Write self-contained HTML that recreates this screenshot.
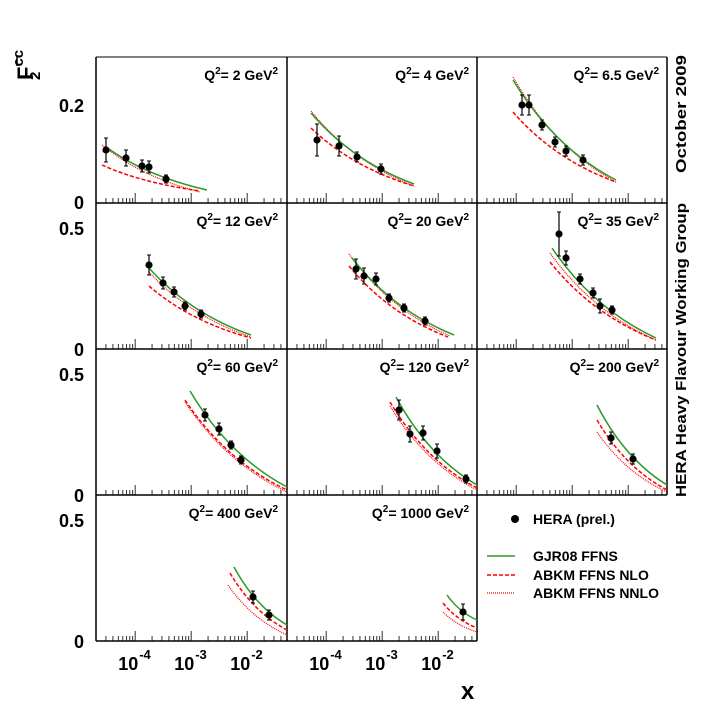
<!DOCTYPE html>
<html><head><meta charset="utf-8"><style>
html,body{margin:0;padding:0;background:#fff;}
svg{display:block;font-family:"Liberation Sans",Arial,sans-serif;font-weight:bold;}
</style></head><body>
<svg id="s" width="709" height="709" viewBox="0 0 709 709" xmlns="http://www.w3.org/2000/svg">
<rect width="709" height="709" fill="#fff"/>
<g id="g"></g>
<text x="0" y="0" transform="translate(33,80) rotate(-90)" font-size="22">F<tspan font-size="15" dy="-10">cc</tspan></text>
<line x1="17" y1="66" x2="17" y2="55" stroke="#000" stroke-width="1.5"/>
<text x="0" y="0" transform="translate(40,80) rotate(-90)" font-size="15">2</text>
<text transform="translate(686,173) rotate(-90)" font-size="15" textLength="118" lengthAdjust="spacingAndGlyphs">October 2009</text>
<text transform="translate(686,497) rotate(-90)" font-size="15" textLength="294" lengthAdjust="spacingAndGlyphs">HERA Heavy Flavour Working Group</text>
<text x="461" y="699" font-size="24">x</text>
<circle cx="515" cy="519" r="4" fill="#000"/>
<text x="533" y="524" font-size="14">HERA (prel.)</text>
<line x1="487" y1="556" x2="515" y2="556" stroke="#2a9a2a" stroke-width="1.5"/>
<text x="533" y="561" font-size="14">GJR08 FFNS</text>
<line x1="487" y1="575" x2="515" y2="575" stroke="#f00" stroke-width="1.5" stroke-dasharray="4,2"/>
<text x="533" y="580" font-size="14">ABKM FFNS NLO</text>
<line x1="487" y1="593" x2="515" y2="593" stroke="#f00" stroke-width="1.2" stroke-dasharray="1,1"/>
<text x="533" y="598" font-size="14">ABKM FFNS NNLO</text>
</svg>
<script>
var g=document.getElementById('g'),h='';
var cx=[96,287,477],cw=191,ry=[57,203,349,495],rh=146;
function L(a,b,c,d,s,w,da){h+='<line x1="'+a+'" y1="'+b+'" x2="'+c+'" y2="'+d+'" stroke="'+(s||'#000')+'" stroke-width="'+(w||1)+'"'+(da?' stroke-dasharray="'+da+'"':'')+'/>';}
var panels=[
[0,0,'2',[[106,150],[126,158],[142,166],[149,167],[166,179]],[[106,147],[207,190]],[[102,165],[200,191]],[[102,145],[200,192]],[12,8,6,6,4]],
[1,0,'4',[[317,140],[339,146],[357,157],[381,169]],[[311,113],[414,184]],[[311,128],[414,186]],[[311,111],[414,186]],[16,10,5,5]],
[2,0,'6.5',[[522,105],[529,105],[542,125],[555,142],[566,151],[583,160]],[[513,80],[616,180]],[[513,112],[616,182]],[[513,77],[616,182]],[10,10,5,5,5,5]],
[0,1,'12',[[149,265],[163,283],[174,292],[185,306],[201,314]],[[149,268],[251,335]],[[149,286],[251,338]],[[149,272],[251,337]],[10,6,5,4,4]],
[1,1,'20',[[356,269],[364,276],[376,279],[389,298],[404,308],[425,321]],[[352,258],[454,335]],[[349,266],[448,337]],[[349,254],[450,336]],[10,8,6,4,4,4]],
[2,1,'35',[[559,234],[566,258],[580,279],[593,293],[600,306],[612,310]],[[552,248],[656,338]],[[550,262],[656,340]],[[550,253],[656,340]],[22,7,5,5,7,4]],
[0,2,'60',[[205,415],[219,429],[231,445],[241,460]],[[190,391],[287,487]],[[185,400],[287,490]],[[185,402],[287,492]],[6,6,4,4]],
[1,2,'120',[[399,410],[410,434],[423,433],[437,451],[466,479]],[[396,397],[477,485]],[[390,402],[477,488]],[[390,406],[477,490]],[10,8,7,7,4]],
[2,2,'200',[[611,438],[633,459]],[[597,405],[667,485]],[[597,420],[667,490]],[[597,432],[667,492]],[6,5]],
[0,3,'400',[[253,597],[269,615]],[[234,567],[287,625]],[[230,573],[287,630]],[[228,585],[287,635]],[6,5]],
[1,3,'1000',[[463,612]],[[447,595],[477,620]],[[443,603],[477,628]],[[443,612],[477,632]],[8]]
];
function cv(a,b,col,da,w){var mx=(a[0]+b[0])/2,my=(a[1]+b[1])/2;var dx=b[0]-a[0],dy=b[1]-a[1];
h+='<path d="M'+a[0]+','+a[1]+' Q'+(mx-0.1*dx)+','+(my+0.18*dy)+' '+b[0]+','+b[1]+'" fill="none" stroke="'+col+'" stroke-width="'+w+'"'+(da?' stroke-dasharray="'+da+'"':'')+'/>';}
for(var r=0;r<4;r++)for(var c=0;c<3;c++){
 if(r==3&&c==2){continue;}
 var x0=cx[c],y0=ry[r],x1=x0+cw,y1=y0+rh;
 for(var d=-5;d<=-1;d++)for(var m=1;m<10;m++){var x=x0+(Math.log10(m)+d+4.7)*56; if(x<x0+1||x>x1-1)continue; L(x,y1,x,y1-(m==1?10:5),'#333');}
 var step=r==0?0.05:0.1,sc=r==0?483:242,top=r==0?0.3:0.6;
 for(var v=step;v<top-1e-6;v+=step){var y=y1-v*sc;var big=(r==0?Math.abs(v-0.2)<1e-6:Math.abs(v-0.5)<1e-6);var len=big?12:6; L(x0,y,x0+len,y);L(x1,y,x1-len,y);}
}
L(96,57,96,641,'#000',1.5);L(287,57,287,641,'#000',1.5);L(477,57,477,495,'#000',1.5);L(667,57,667,495,'#000',1.5);L(477,495,477,641,'#000',1.5);
L(96,57,667,57,'#000',1);L(96,203,667,203,'#000',1.5);L(96,349,667,349,'#000',1.5);L(96,495,667,495,'#000',1.5);L(96,641,477,641,'#000',1.5);
function T(x,y,s,fs,anc){h+='<text x="'+x+'" y="'+y+'" font-size="'+fs+'" text-anchor="'+(anc||'start')+'">'+s+'</text>';}
T(84,112,'0.2',18,'end');
T(84,209,'0',18,'end');
[349,495,641].forEach(function(y){T(84,y+7,'0',18,'end');T(84,y-121+7,'0.5',18,'end');});
[96,287].forEach(function(x0){[-4,-3,-2].forEach(function(d){var x=x0+(d+4.7)*56;T(x-17,670,'10',18);T(x+4,659,String(d),13);});});
panels.forEach(function(p){var x0=cx[p[0]],y0=ry[p[1]];
 h+='<text x="'+(x0+cw-9)+'" y="'+(y0+23)+'" font-size="14" text-anchor="end">Q<tspan font-size="10" dy="-6">2</tspan><tspan dy="6">= '+p[2]+' GeV</tspan><tspan font-size="10" dy="-6">2</tspan></text>';
 cv(p[6][0],p[6][1],'#f00','1,1',1.2);
 cv(p[5][0],p[5][1],'#f00','4,2',1.5);
 cv(p[4][0],p[4][1],'#2a9a2a','',1.5);
 p[3].forEach(function(pt,i){var e=p[7][i];L(pt[0],pt[1]-e,pt[0],pt[1]+e,'#000',1.2);L(pt[0]-2,pt[1]-e,pt[0]+2,pt[1]-e,'#000',1);L(pt[0]-2,pt[1]+e,pt[0]+2,pt[1]+e,'#000',1);h+='<circle cx="'+pt[0]+'" cy="'+pt[1]+'" r="3.6" fill="#000"/>';});
});
g.innerHTML=h;
</script>
</body></html>
